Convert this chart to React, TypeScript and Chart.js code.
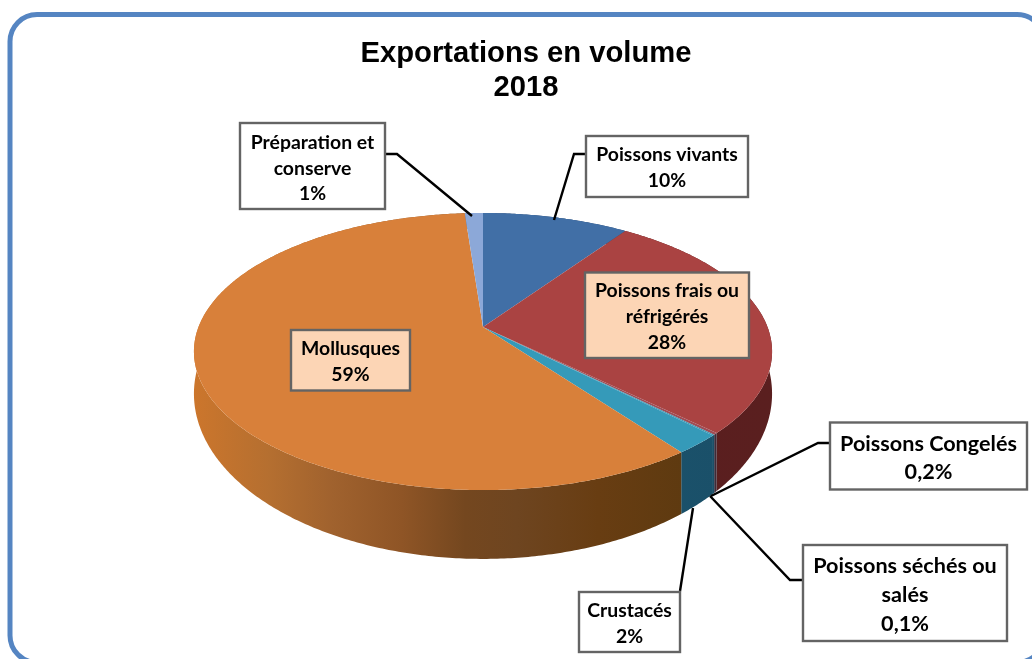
import React, { useEffect, useRef } from "react";
import { Chart, registerables } from "chart.js";

Chart.register(...registerables);

const categories = [
  "Poissons vivants",
  "Poissons frais ou réfrigérés",
  "Poissons Congelés",
  "Poissons séchés ou salés",
  "Crustacés",
  "Mollusques",
  "Préparation et conserve",
];
const shares = [9.7, 27.5, 0.2, 0.1, 2.3, 59, 1.2];
const titleLines = ["Exportations en volume", "2018"];
const labelLines = [
  ["Poissons vivants", "10%"],
  ["Poissons frais ou", "réfrigérés", "28%"],
  ["Poissons Congelés", "0,2%"],
  ["Poissons séchés ou", "salés", "0,1%"],
  ["Crustacés", "2%"],
  ["Mollusques", "59%"],
  ["Préparation et", "conserve", "1%"],
];
const topColors = ["#416fa6", "#aa4342", "#a04c54", "#3a94b2", "#359ab9", "#d8803a", "#8ca8d8"];
const wallStops: [number, string][][] = [
  [[0, "#2c4a70"], [1, "#2c4a70"]],
  [[0, "#5c1a1e"], [1, "#5a1f1f"]],
  [[0, "#3e2a38"], [1, "#3e2a38"]],
  [[0, "#1c4f68"], [1, "#1c4f68"]],
  [[0, "#1c5a75"], [1, "#1a4f68"]],
  [[0, "#cc762c"], [0.13, "#b56f30"], [0.24, "#a0622e"], [0.36, "#8f5526"], [0.47, "#74471f"], [0.56, "#6e4520"], [0.7, "#683d12"], [0.85, "#5e3a10"], [1, "#5e3a10"]],
  [[0, "#5a6f90"], [1, "#5a6f90"]],
];

// Label boxes and leader lines (layout only)
const boxes = [
  { x: 586, y: 136, w: 162, h: 61, fill: "#ffffff", font: 19.4, lineY: [155, 181], leader: [[586, 154], [574, 154], [554, 220]] },
  { x: 585, y: 272.5, w: 164, h: 85.5, fill: "#fcd5b5", font: 19.4, lineY: [291, 317, 343], leader: [] },
  { x: 830, y: 422.5, w: 197, h: 67, fill: "#ffffff", font: 21.6, lineY: [444, 472], leader: [[830, 443], [818, 443], [711, 496]] },
  { x: 803, y: 545, w: 204, h: 96, fill: "#ffffff", font: 21.6, lineY: [566, 595, 624], leader: [[803, 580], [790, 580], [710, 496]] },
  { x: 579, y: 592, w: 101, h: 60, fill: "#ffffff", font: 19.4, lineY: [611, 637], leader: [[680, 591], [693, 508]] },
  { x: 291, y: 330, w: 119, h: 60.5, fill: "#fcd5b5", font: 19.4, lineY: [349, 375], leader: [] },
  { x: 240, y: 123, w: 145, h: 86, fill: "#ffffff", font: 19.4, lineY: [142.5, 169, 194], leader: [[385, 154], [397, 154], [472, 216]] },
];

// Perspective disc: maps an angle measured from 12 o'clock on the rim
const CX = 483;
const K = -0.177;
const TOP = { a: 284.5, b: 134.2, c: 327 };
const BOTTOM = { a: 284.5, b: 160, c: 364.5 };
const rim = (p: typeof TOP, theta: number): [number, number] => {
  const u = Math.sin(theta);
  const v = -Math.cos(theta);
  const w = 1 + K * v;
  return [CX + (p.a * u) / w, p.c + (p.b * v) / w];
};
const arcPoints = (p: typeof TOP, t0: number, t1: number) => {
  const n = Math.max(2, Math.ceil(Math.abs(t1 - t0) / 0.01));
  const pts: [number, number][] = [];
  for (let i = 0; i <= n; i++) pts.push(rim(p, t0 + ((t1 - t0) * i) / n));
  return pts;
};

const pie3d = {
  id: "pie3d",
  beforeDatasetDraw() {
    return false;
  },
  afterDatasetsDraw(chart: any) {
    const ctx = chart.ctx as CanvasRenderingContext2D;
    const arcs = chart.getDatasetMeta(0).data;
    const spans = arcs.map((el: any) => [el.startAngle + Math.PI / 2, el.endAngle + Math.PI / 2]);

    ctx.save();
    spans.forEach(([t0, t1]: number[], i: number) => {
      const g = ctx.createLinearGradient(193, 0, 772, 0);
      wallStops[i].forEach(([o, c]) => g.addColorStop(o, c));
      const a = arcPoints(TOP, t0, t1);
      const b = arcPoints(BOTTOM, t1, t0);
      ctx.beginPath();
      [...a, ...b].forEach(([x, y], j) => (j ? ctx.lineTo(x, y) : ctx.moveTo(x, y)));
      ctx.closePath();
      ctx.fillStyle = g;
      ctx.fill();
    });
    spans.forEach(([t0, t1]: number[], i: number) => {
      ctx.beginPath();
      ctx.moveTo(CX, TOP.c);
      arcPoints(TOP, t0, t1).forEach(([x, y]) => ctx.lineTo(x, y));
      ctx.closePath();
      ctx.fillStyle = arcs[i].options.backgroundColor;
      ctx.fill();
    });

    boxes.forEach((b) => {
      if (b.leader.length) {
        ctx.beginPath();
        b.leader.forEach(([x, y], j) => (j ? ctx.lineTo(x, y) : ctx.moveTo(x, y)));
        ctx.strokeStyle = "#000000";
        ctx.lineWidth = 2.4;
        ctx.stroke();
      }
    });
    boxes.forEach((b, i) => {
      ctx.fillStyle = b.fill;
      ctx.fillRect(b.x, b.y, b.w, b.h);
      ctx.strokeStyle = "#646464";
      ctx.lineWidth = 2.4;
      ctx.strokeRect(b.x, b.y, b.w, b.h);
      ctx.fillStyle = "#000000";
      ctx.font = `bold ${b.font}px Lato`;
      ctx.textAlign = "center";
      ctx.textBaseline = "middle";
      labelLines[i].forEach((line, j) => ctx.fillText(line, b.x + b.w / 2, b.lineY[j]));
    });
    ctx.restore();
  },
  beforeDraw(chart: any) {
    const ctx = chart.ctx as CanvasRenderingContext2D;
    ctx.save();
    ctx.fillStyle = "#ffffff";
    ctx.fillRect(0, 0, chart.width, chart.height);
    ctx.beginPath();
    ctx.roundRect(10, 14.5, 1034, 648, 27);
    ctx.strokeStyle = "#5585c2";
    ctx.lineWidth = 5;
    ctx.stroke();
    ctx.restore();
  },
};

export default function App() {
  const ref = useRef<HTMLCanvasElement>(null);
  useEffect(() => {
    const chart = new Chart(ref.current as HTMLCanvasElement, {
      type: "pie",
      data: {
        labels: categories,
        datasets: [{ data: shares, backgroundColor: topColors, borderWidth: 0 }],
      },
      options: {
        responsive: false,
        animation: false,
        events: [],
        layout: { padding: { left: 20, top: 37, right: 0, bottom: 0 } },
        plugins: {
          legend: { display: false },
          tooltip: { enabled: false },
          title: {
            display: true,
            text: titleLines,
            color: "#000000",
            font: { family: "Liberation Sans", size: 29.2, weight: "bold", lineHeight: 1.164 },
            padding: { top: 0, bottom: 0 },
          },
        },
      },
      plugins: [pie3d],
    } as any);
    return () => chart.destroy();
  }, []);
  return (
    <canvas
      ref={ref}
      width={1032}
      height={659}
      style={{ position: "absolute", left: 0, top: 0, display: "block" }}
    />
  );
}
